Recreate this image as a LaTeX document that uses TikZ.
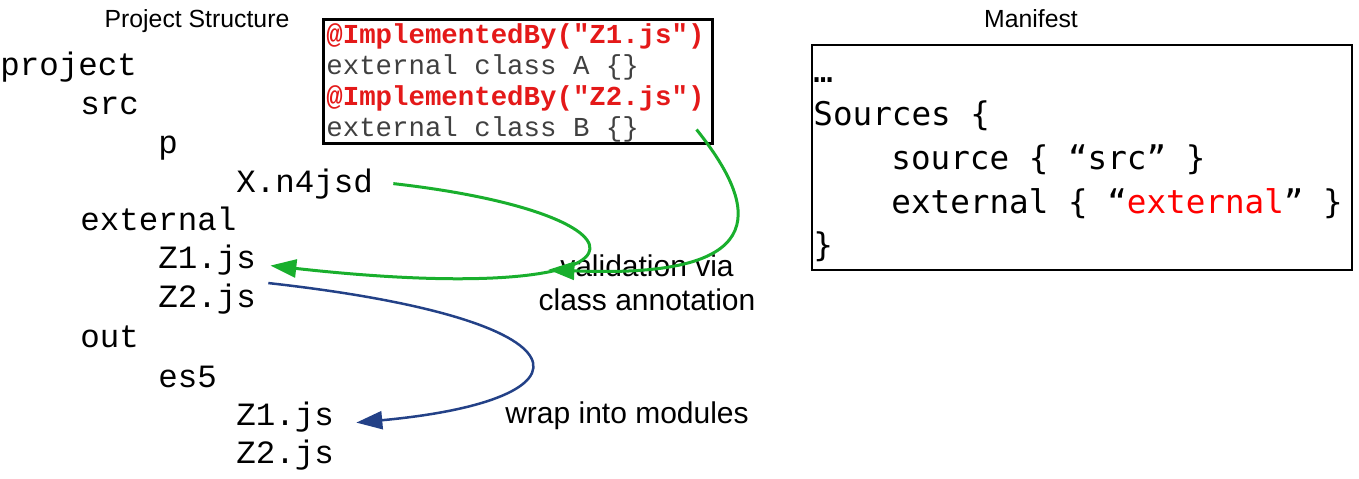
\documentclass[tikz,border=0pt]{standalone}
\usepackage{fontspec}
\setmainfont{Liberation Sans}
\setmonofont{Liberation Mono}
\newfontfamily\manifont{DejaVu Sans Mono}
\usetikzlibrary{positioning,arrows.meta,calc}
\definecolor{valgreen}{RGB}{25,175,45}
\definecolor{wrapblue}{RGB}{35,65,135}
\definecolor{annored}{RGB}{228,25,25}
\tikzset{
  tr/.style={anchor=base west, inner sep=0pt, font=\fontsize{16.25}{18}\selectfont\ttfamily},
  cd/.style={anchor=base west, inner sep=0pt, font=\fontsize{13.7}{15}\selectfont\ttfamily, text=black!75},
  ann/.style={cd, font=\fontsize{13.7}{15}\selectfont\ttfamily\bfseries, text=annored},
  mf/.style={anchor=base west, inner sep=0pt, font=\fontsize{16.3}{18}\selectfont\manifont},
  ttl/.style={anchor=base, inner sep=0pt, font=\fontsize{12.4}{14}\selectfont},
  lbl/.style={inner sep=0pt, align=center, font=\fontsize{15}{17}\selectfont},
  box/.style={rectangle, draw=black, inner sep=0pt},
  val/.style={draw=valgreen, line width=1.5pt, -{Triangle[length=13pt,width=9pt]}},
  wrp/.style={draw=wrapblue, line width=1.25pt, -{Triangle[length=13pt,width=9pt]}}
}
\begin{document}
\begin{tikzpicture}[x=0.5pt, y=-0.5pt]
	\useasboundingbox (0,0) rectangle (1359,478);
	% titles
	\node[ttl] (pstitle) at (197,27) {Project Structure};
	\node[ttl] (mftitle) at (1031,27) {Manifest};
	% project tree
	\node[tr] (prj) at (0,75) {project};
	\node[tr] (src) at (80,114) {src};
	\node[tr] (p) at (158,153) {p};
	\node[tr] (xn) at (236,192) {X.n4jsd};
	\node[tr] (ext) at (80,230) {external};
	\node[tr] (z1) at (158,268) {Z1.js};
	\node[tr] (z2) at (158,307) {Z2.js};
	\node[tr] (out) at (80,347) {out};
	\node[tr] (es) at (158,387) {es5};
	\node[tr] (oz1) at (236,425) {Z1.js};
	\node[tr] (oz2) at (236,463) {Z2.js};
	% external classes
	\node[box, line width=1.5pt, minimum width=194.5pt, minimum height=62pt] (code) at (517.5,81) {};
	\node[ann] (ib1) at (326,43) {@ImplementedBy("Z1.js")};
	\node[cd] (ca) at (326,74) {external class A \{\}};
	\node[ann] (ib2) at (326,105) {@ImplementedBy("Z2.js")};
	\node[cd] (cb) at (326,136) {external class B \{\}};
	% manifest
	\node[box, line width=1.25pt, minimum width=270pt, minimum height=112.5pt] (mani) at (1082,157.5) {};
	\node[mf] (m0) at (813,82) {…};
	\node[mf] (m1) at (813,125) {Sources \{};
	\node[mf] (m2) at (891,169) {source \{ “src” \}};
	\node[mf] (m3) at (891,213) {external \{ “\textcolor{red}{external}” \}};
	\node[mf] (m4) at (813,256) {\}};
	% labels
	\node[lbl] (valtxt) at (647,283) {validation via\\class annotation};
	\node[lbl, anchor=base] (wraptxt) at (627,423) {wrap into modules};
	%
	\draw[val] ([xshift=10pt]xn.east) .. controls (670,215) and (670,310) .. ([xshift=7pt,yshift=-3pt]z1.east) coordinate[pos=0.65] (valhit);
	\draw[val] ([xshift=-8.5pt,yshift=7.5pt]code.south east) .. controls (765,215) and (765,279) .. (valhit);
	\draw[wrp] ([xshift=6pt]z2.north east) .. controls (600,320) and (600,400) .. ([xshift=11pt,yshift=-3pt]oz1.east);
\end{tikzpicture}
\end{document}
